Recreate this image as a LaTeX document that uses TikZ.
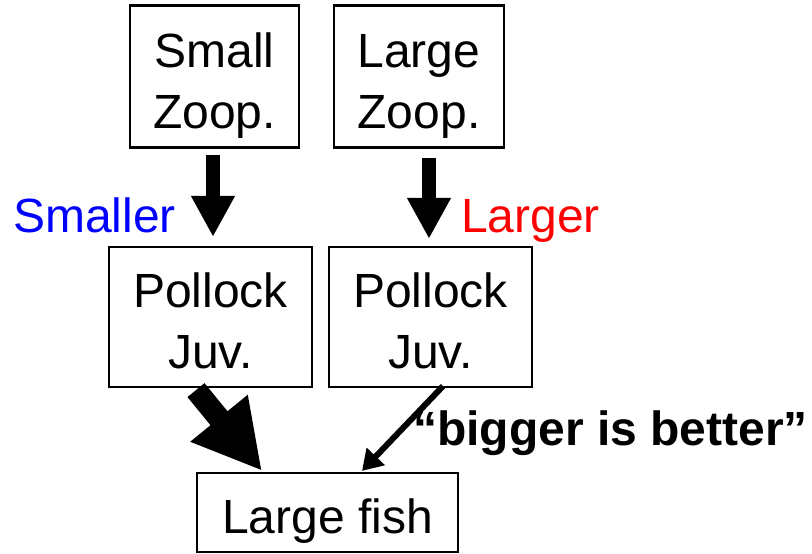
\documentclass[tikz,border=0pt]{standalone}
\usepackage{fontspec}
\setmainfont{Liberation Sans}
\usetikzlibrary{arrows.meta}
\definecolor{myblue}{RGB}{0,0,255}
\definecolor{myred}{RGB}{255,0,0}
\newcommand{\twoline}[2]{\begin{tabular}[b]{@{}c@{}}#1\\#2\end{tabular}}
\newcommand{\oneline}[1]{\begin{tabular}[b]{@{}c@{}}#1\end{tabular}}
\begin{document}
\begin{tikzpicture}[x=1pt,y=-1pt,
  box/.style={draw=black,line width=2.2pt,rectangle,inner sep=0pt,text depth=0pt,
    font=\fontsize{48}{61}\selectfont},
  downarrow/.style={line width=14pt,-{Triangle[width=41pt,length=41pt]}},
  fatarrow/.style={line width=22pt,-{Triangle[width=69pt,length=68pt]}},
  thinarrow/.style={line width=6pt,-{Triangle[width=24pt,length=20pt]}},
  lab/.style={font=\fontsize{48}{61}\selectfont,inner sep=0pt}]
\useasboundingbox (0,0) rectangle (812,554);
\node[box,minimum width=169pt,minimum height=142pt] (sz) at (214.5,76.5) {\twoline{Small}{Zoop.}};
\node[box,minimum width=170pt,minimum height=142pt] (lz) at (419,76.5) {\twoline{Large}{Zoop.}};
\node[box,minimum width=203pt,minimum height=140pt] (pjl) at (210.5,317) {\twoline{Pollock}{Juv.}};
\node[box,minimum width=203pt,minimum height=140pt] (pjr) at (430.5,317) {\twoline{Pollock}{Juv.}};
\node[box,minimum width=261pt,minimum height=79pt] (lf) at (327.5,512.5) {\oneline{Large fish}};
\node[lab,anchor=base west,text=myblue] (small) at (13,232) {Smaller};
\node[lab,anchor=base west,text=myred] (large) at (461,232) {Larger};
\node[lab,anchor=base east,font=\fontsize{48}{61}\selectfont\bfseries] (bib) at (808,445) {“bigger is better”};
\draw[downarrow] ([xshift=-1.5pt,yshift=-6pt]sz.south) -- ([xshift=2.5pt,yshift=9pt]pjl.north);
\draw[downarrow] ([xshift=10pt,yshift=-9pt]lz.south) -- ([xshift=-1.5pt,yshift=7pt]pjr.north);
\draw[fatarrow] ([xshift=-14.5pt,yshift=-2pt]pjl.south) -- ([xshift=-65.5pt,yshift=1pt]lf.north);
\draw[thinarrow] ([xshift=12.5pt,yshift=2pt]pjr.south) -- ([xshift=34.5pt,yshift=1pt]lf.north);
\end{tikzpicture}
\end{document}
